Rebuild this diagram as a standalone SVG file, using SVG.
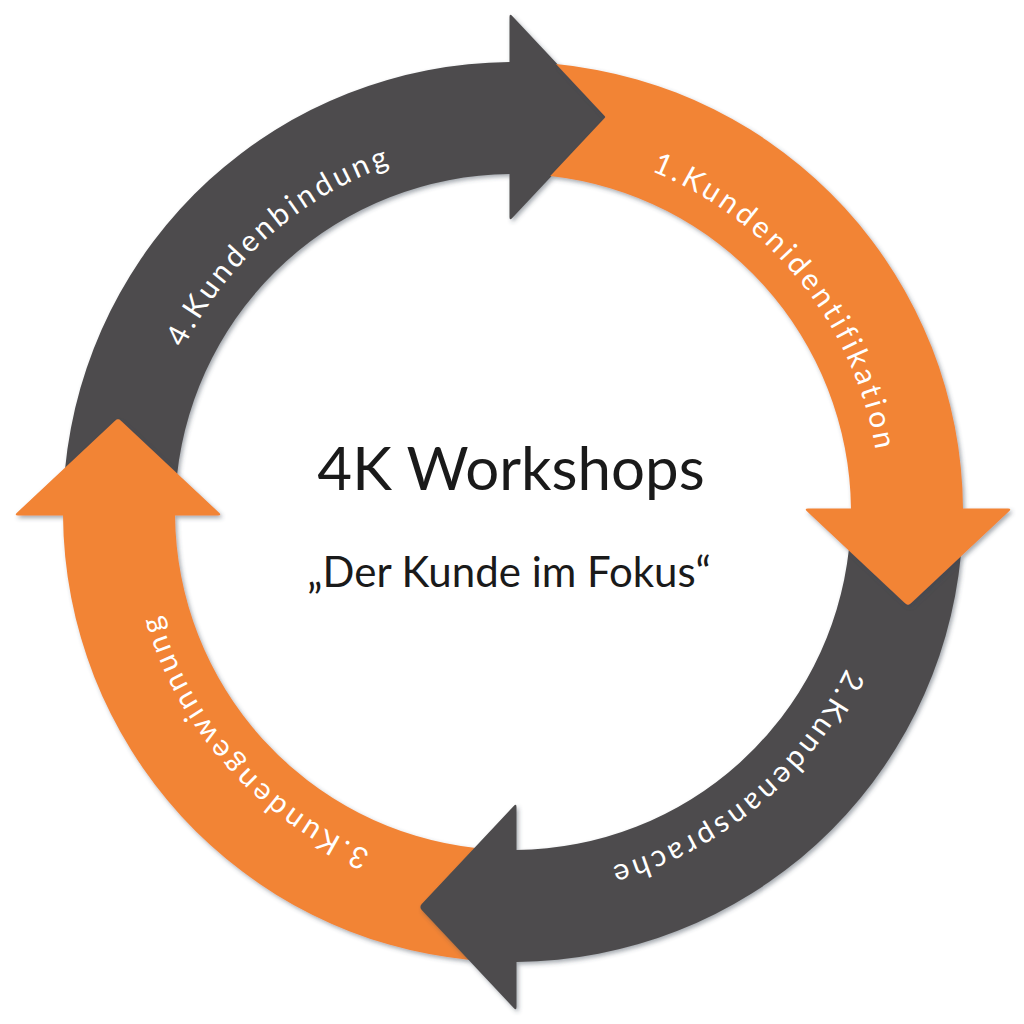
<svg xmlns="http://www.w3.org/2000/svg" xmlns:xlink="http://www.w3.org/1999/xlink" width="1024" height="1024" viewBox="0 0 1024 1024">
  <defs>
    <filter id="sh" x="-10%" y="-10%" width="120%" height="120%">
      <feDropShadow dx="2" dy="2.5" stdDeviation="2.2" flood-color="#3a4654" flood-opacity="0.45"/>
    </filter>
    <path id="seg" d="M556.0,64.06 A450,450 0 0 1 962.99,508.5 L1008,508.5 Q1012,508.5 1009.08,511.24 L910.92,603.26 Q908,606 905.08,603.26 L806.92,511.24 Q804,508.5 808,508.5 L850.98,508.5 A338,338 0 0 0 550.26,176.06 L605.6,117 Z"/>
    <path id="ring" d="M513,144 A368,368 0 0 1 513,880 A368,368 0 0 1 513,144"/>
    <style>
      .orange { fill: #F28436; }
      .dark { fill: #4E4C4D; }
      .lbl { font-family: Lato, "Liberation Sans", sans-serif; font-weight: 400; font-size: 30px; letter-spacing: 3.5px; fill: #FFFFFF; text-anchor: middle; }
      .title { font-family: Lato, "Liberation Sans", sans-serif; font-weight: 400; fill: #1A1A1A; text-anchor: middle; }
    </style>
  </defs>
  <rect width="1024" height="1024" fill="#FFFFFF"/>

  <g id="node-4-kundenbindung">
    <g filter="url(#sh)"><use xlink:href="#seg" href="#seg" class="dark" transform="rotate(270 513 512)"/></g>
    <text class="lbl"><textPath xlink:href="#ring" href="#ring" startOffset="2046">4.Kundenbindung</textPath></text>
  </g>
  <g id="node-3-kundengewinnung">
    <g filter="url(#sh)"><use xlink:href="#seg" href="#seg" class="orange" transform="rotate(180 513 512)"/></g>
    <text class="lbl"><textPath xlink:href="#ring" href="#ring" startOffset="1467">3.Kundengewinnung</textPath></text>
  </g>
  <g id="node-2-kundenansprache">
    <g filter="url(#sh)"><use xlink:href="#seg" href="#seg" class="dark" transform="rotate(90 513 512)"/></g>
    <text class="lbl"><textPath xlink:href="#ring" href="#ring" startOffset="899">2.Kundenansprache</textPath></text>
  </g>
  <g id="node-1-kundenidentifikation">
    <g filter="url(#sh)"><use xlink:href="#seg" href="#seg" class="orange"/></g>
    <text class="lbl"><textPath xlink:href="#ring" href="#ring" startOffset="330">1.Kundenidentifikation</textPath></text>
  </g>

  <g id="connectors"/>

  <g id="center">
    <text class="title" x="511" y="490" font-size="60">4K Workshops</text>
    <text class="title" x="509" y="587" font-size="42">„Der Kunde im Fokus“</text>
  </g>
</svg>
